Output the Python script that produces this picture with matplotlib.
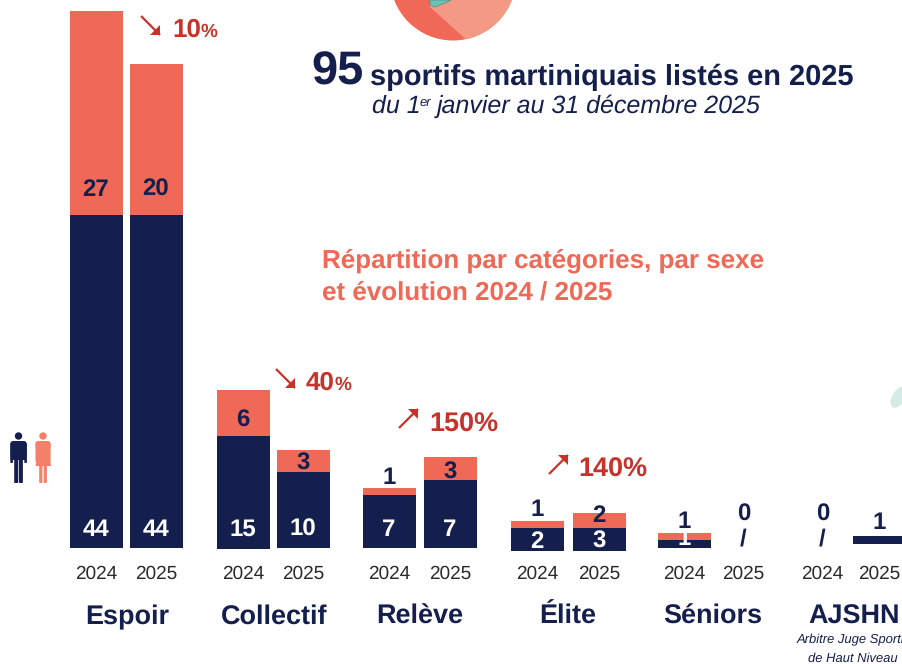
import matplotlib
matplotlib.use("Agg")
import matplotlib.pyplot as plt
from matplotlib.patches import Circle, Wedge, Polygon, Ellipse, FancyBboxPatch

plt.rcParams["font.family"] = ["Liberation Sans", "DejaVu Sans"]
plt.rcParams["text.hinting"] = "no_hinting"
plt.rcParams["text.hinting_factor"] = 1

NAVY = "#151F4D"
CORAL = "#F06856"
RED = "#C8322B"
GREY = "#2B2A29"

categories = ["Espoir", "Collectif", "Relève", "Élite", "Séniors", "AJSHN"]
years = ["2024", "2025"]

# bar heights as drawn in the picture (a few do not agree with their printed labels)
men_drawn = [44, 44, 15, 10, 7, 9, 3, 3, 1, 0, 0, 1]
women_drawn = [27, 20, 6, 3, 1, 3, 1, 2, 1, 0, 0, 0]

# printed labels
men_labels = ["44", "44", "15", "10", "7", "7", "2", "3", "1", "/", "/", "1"]
women_labels = ["27", "20", "6", "3", "1", "3", "1", "2", "1", "0", "0", ""]

evolution = ["10", "40", "150", "140"]

PX_PER_UNIT = 7.56
BASE_Y = 548

fig = plt.figure(figsize=(9.03, 6.64), dpi=100)

# bars axis: x in pixels, y in athletes
ax = fig.add_axes([0, 0, 1, 1])
ax.set_xlim(0, 903)
ax.set_ylim(-(664 - BASE_Y) / PX_PER_UNIT, BASE_Y / PX_PER_UNIT)
ax.axis("off")

# overlay for text and decoration, in picture pixels
px = fig.add_axes([0, 0, 1, 1])
px.set_xlim(0, 903)
px.set_ylim(664, 0)
px.axis("off")
px.patch.set_alpha(0)

centers = [96.5, 156.5, 243.5, 303.5, 389.5, 450.5, 537.5, 599.5, 684.5, 744, 823, 880]
base_shift = [0, 0, -1, 0, 0, 0, -3, -3, 0, 0, 0, 4]  # px, bars do not share one baseline
bottoms = [s / PX_PER_UNIT for s in base_shift]
tops = [b + m for b, m in zip(bottoms, men_drawn)]

ax.bar(centers, men_drawn, width=53, bottom=bottoms, color=NAVY, linewidth=0)
ax.bar(centers, women_drawn, width=53, bottom=tops, color=CORAL, linewidth=0)

# labels inside / above the bars
men_y = [530, 530, 530, 530, 530, 530, 542, 542, 539, 539, 539, 523]
men_col = ["white"] * 9 + [NAVY, NAVY, NAVY]
women_y = [190, 190, 421, 464, 478, 473, 510, 516, 522, 515, 515, 0]
for x, lab, y, c in zip(centers, men_labels, men_y, men_col):
    px.text(x - 0.5, y, lab, color=c, fontsize=17.5, fontweight="bold", ha="center", va="center")
for x, lab, y in zip(centers, women_labels, women_y):
    if lab:
        px.text(x - 0.5, y, lab, color=NAVY, fontsize=17.5, fontweight="bold", ha="center", va="center")

# year ticks
for i, x in enumerate(centers):
    px.text(x - 0.5, 574, years[i % 2], color=GREY, fontsize=13.5, ha="center", va="center")

# category names
cat_x = [127, 274, 420, 568, 713, 854]
for x, name in zip(cat_x, categories):
    px.text(x, 617, name, color=NAVY, fontsize=19.5, fontweight="bold", ha="center", va="center")

px.text(797, 640, "Arbitre Juge Sportif", color=NAVY, fontsize=9.5, style="italic", ha="left", va="center", clip_on=True)
px.text(853, 658, "de Haut Niveau", color=NAVY, fontsize=9, style="italic", ha="center", va="center")

# evolution arrows and percentages
arrow_xy = [(141, 16, 160, 35), (276, 369, 295, 388), (399, 428, 418, 409), (549, 474, 568, 455)]
pct_x = [172, 306, 429, 578]
pct_y = [30, 383, 425, 470]
pct_small = [True, True, False, False]
for (x0, y0, x1, y1), val, x, y, small in zip(arrow_xy, evolution, pct_x, pct_y, pct_small):
    px.plot([x0, x1], [y0, y1], color=RED, lw=1.6, solid_capstyle="butt")
    if y1 > y0:  # falling arrow
        px.add_patch(Polygon([(x1, y1), (x1 - 10, y1), (x1, y1 - 10)], fc=RED, lw=0))
    else:  # rising arrow
        px.add_patch(Polygon([(x1, y1), (x1 - 10, y1), (x1, y1 + 10)], fc=RED, lw=0))
    if small:
        t = px.text(x, y, val, color=RED, fontsize=19, fontweight="bold", ha="left", va="center")
        px.annotate("%", xy=(1, 0), xycoords=t, xytext=(0, 1), textcoords="offset points",
                    color=RED, fontsize=14, fontweight="bold", ha="left", va="bottom")
    else:
        px.text(x, y, val + "%", color=RED, fontsize=19.6, fontweight="bold", ha="left", va="center")

# headline
px.text(311, 85, "95", color=NAVY, fontsize=34, fontweight="bold", ha="left", va="baseline")
px.text(370, 85, "sportifs martiniquais listés en 2025", color=NAVY, fontsize=21, fontweight="bold", ha="left", va="baseline")
px.text(372, 113, "du 1", color=NAVY, fontsize=17.8, style="italic", ha="left", va="baseline")
px.text(420, 106, "er", color=NAVY, fontsize=9.5, style="italic", ha="left", va="baseline")
px.text(437, 113, "janvier au 31 décembre 2025", color=NAVY, fontsize=17.8, style="italic", ha="left", va="baseline")

px.text(322, 267, "Répartition par catégories, par sexe", color=CORAL, fontsize=19, fontweight="bold", ha="left", va="baseline")
px.text(322, 299, "et évolution 2024 / 2025", color=CORAL, fontsize=19, fontweight="bold", ha="left", va="baseline")

# logo circle cut by the top edge
disc = Circle((453, -22.5), 63, fc=CORAL, lw=0)
px.add_patch(disc)
light = Wedge((430, 7), 110, -90, 42, fc="#F49A84", lw=0)
px.add_patch(light)
light.set_clip_path(disc)
px.add_patch(Polygon([(430, 5), (435, 7), (445, 3), (451, 0), (430, 0)], fc="#6FC2B5", ec="#3C7F80", lw=0.4))

# pale leaf on the right edge
px.add_patch(Ellipse((899, 397), 13, 24, angle=32, fc="#D5ECE6", lw=0))

def bar_px(x, y, w, h, color, r=1):
    px.add_patch(FancyBboxPatch((x, y), w, h, boxstyle=f"round,pad=0,rounding_size={r}", fc=color, lw=0))

# man icon
px.add_patch(Circle((18.5, 436), 3.7, fc=NAVY, lw=0))
bar_px(10.5, 441, 16, 19, NAVY, 2.5)
bar_px(14.2, 455, 4, 28, NAVY)
bar_px(18.9, 455, 4, 28, NAVY)
bar_px(10.3, 443, 2.6, 20, NAVY)
bar_px(24.3, 443, 2.6, 20, NAVY)

# woman icon
WOMAN = "#F4806A"
px.add_patch(Circle((43, 436), 3.7, fc=WOMAN, lw=0))
bar_px(35.5, 441, 15, 9, WOMAN, 2.5)
bar_px(35.5, 443, 2.6, 19, WOMAN)
bar_px(48, 443, 2.6, 19, WOMAN)
px.add_patch(Polygon([(38.5, 445), (47.5, 445), (51, 466), (35.5, 466)], fc=WOMAN, lw=0))
bar_px(39.2, 464, 3.2, 19, WOMAN)
bar_px(43.7, 464, 3.2, 19, WOMAN)

fig.savefig("out.png", dpi=100)
